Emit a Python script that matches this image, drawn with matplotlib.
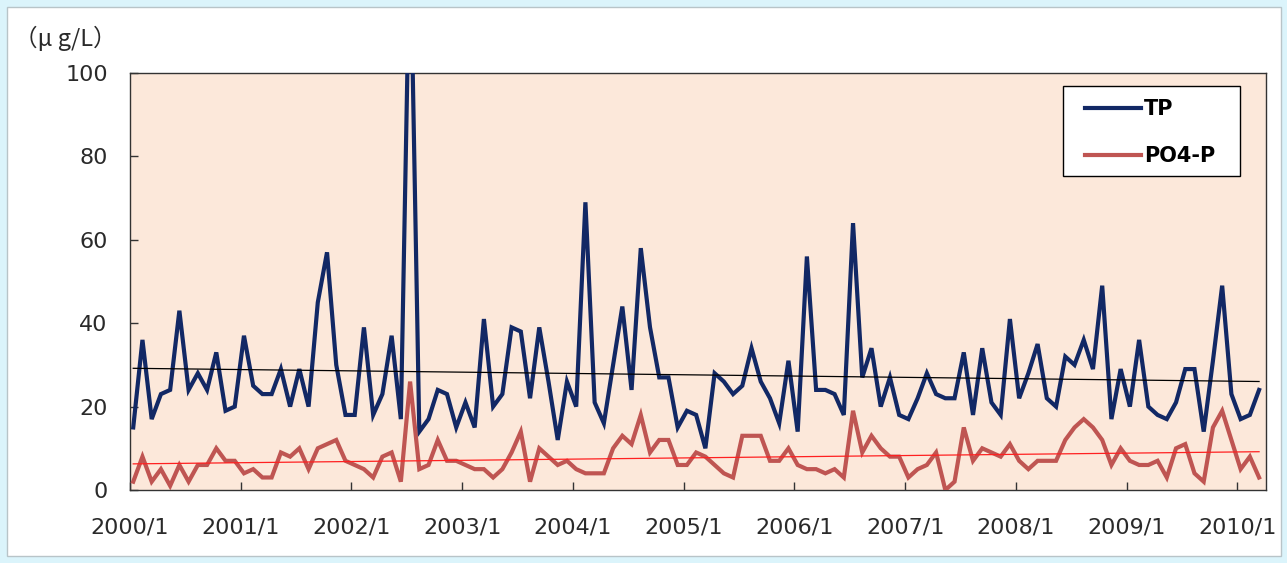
import numpy as np
import matplotlib
matplotlib.use('Agg')
import matplotlib.pyplot as plt
from matplotlib.patches import Rectangle

plt.rcParams['font.family'] = ['DejaVu Sans', 'Noto Sans CJK JP']

# monthly values, 2000/1 .. 2010/3 (ug/L)
tp = [15, 36, 17, 23, 24, 43, 24, 28, 24, 33, 19, 20,
      37, 25, 23, 23, 29, 20, 29, 20, 45, 57, 30, 18,
      18, 39, 18, 23, 37, 17, 135, 14, 17, 24, 23, 15,
      21, 15, 41, 20, 23, 39, 38, 22, 39, 26, 12, 26,
      20, 69, 21, 16, 30, 44, 24, 58, 39, 27, 27, 15,
      19, 18, 10, 28, 26, 23, 25, 34, 26, 22, 16, 31,
      14, 56, 24, 24, 23, 18, 64, 27, 34, 20, 27, 18,
      17, 22, 28, 23, 22, 22, 33, 18, 34, 21, 18, 41,
      22, 28, 35, 22, 20, 32, 30, 36, 29, 49, 17, 29,
      20, 36, 20, 18, 17, 21, 29, 29, 14, 31, 49, 23,
      17, 18, 24]
po4p = [2, 8, 2, 5, 1, 6, 2, 6, 6, 10, 7, 7,
        4, 5, 3, 3, 9, 8, 10, 5, 10, 11, 12, 7,
        6, 5, 3, 8, 9, 2, 26, 5, 6, 12, 7, 7,
        6, 5, 5, 3, 5, 9, 14, 2, 10, 8, 6, 7,
        5, 4, 4, 4, 10, 13, 11, 18, 9, 12, 12, 6,
        6, 9, 8, 6, 4, 3, 13, 13, 13, 7, 7, 10,
        6, 5, 5, 4, 5, 3, 19, 9, 13, 10, 8, 8,
        3, 5, 6, 9, 0, 2, 15, 7, 10, 9, 8, 11,
        7, 5, 7, 7, 7, 12, 15, 17, 15, 12, 6, 10,
        7, 6, 6, 7, 3, 10, 11, 4, 2, 15, 19, 12,
        5, 8, 3]
years = ['2000/1', '2001/1', '2002/1', '2003/1', '2004/1', '2005/1',
         '2006/1', '2007/1', '2008/1', '2009/1', '2010/1']
yticks = [0, 20, 40, 60, 80, 100]

# samples taken mid-month -> small offset from the month start
x = np.arange(len(tp)) + 0.35

W, H = 1287, 563
fig = plt.figure(figsize=(W / 100, H / 100), dpi=100)
fig.patch.set_facecolor('#dbf4fb')
fig.patches.append(Rectangle((7 / W, 7 / H), 1274 / W, 549 / H,
                             transform=fig.transFigure, facecolor='white',
                             edgecolor='#b8c4c8', lw=1, zorder=-10))

ax = fig.add_axes([130 / W, 1 - 490 / H, 1136 / W, 417 / H])
ax.set_zorder(5)
ax.set_facecolor('#fce8da')

l1, = ax.plot(x, tp, color='#122865', lw=3.0, solid_joinstyle='miter', label='TP', zorder=3)
l2, = ax.plot(x, po4p, color='#bf5552', lw=3.0, solid_joinstyle='miter', label='PO4-P', zorder=3)

# linear trend lines
c1 = np.polyfit(x, tp, 1)
c2 = np.polyfit(x, po4p, 1)
ax.plot(x, np.polyval(c1, x), color='black', lw=0.9, zorder=4)
ax.plot(x, np.polyval(c2, x), color='#ff2020', lw=0.9, zorder=4)

ax.set_xlim(0, 123.1)
ax.set_ylim(0, 100)
ax.set_xticks(np.arange(len(years)) * 12)
ax.set_xticklabels(years)
ax.set_yticks(yticks)
ax.tick_params(axis='both', direction='in', length=6, width=1, color='#333333',
               labelsize=16, labelcolor='#2a2a2a')
ax.tick_params(axis='y', pad=16)
ax.tick_params(axis='x', pad=20)
for s in ax.spines.values():
    s.set_color('#333333')
    s.set_linewidth(1)

# legend box drawn by hand, entries placed inside it
ax.add_patch(Rectangle((1063 / W, 1 - 176 / H), 177 / W, 90 / H, transform=fig.transFigure,
                       facecolor='white', edgecolor='black', lw=1, zorder=6))
leg = ax.legend(handles=[l1, l2], loc='upper left', bbox_to_anchor=(1085 / W, 1 - 99 / H),
                bbox_transform=fig.transFigure, frameon=False,
                prop={'weight': 'bold', 'size': 15}, handlelength=2.7,
                handletextpad=0.15, labelspacing=1.3, borderpad=0, borderaxespad=0)
leg.set_zorder(7)

fig.text(14 / W, 1 - 38 / H, '（μ g/L）', fontsize=17, color='#2a2a2a',
         family=['Noto Sans CJK JP', 'DejaVu Sans'], va='center', ha='left')

fig.savefig('out.png', dpi=100, facecolor=fig.get_facecolor())
